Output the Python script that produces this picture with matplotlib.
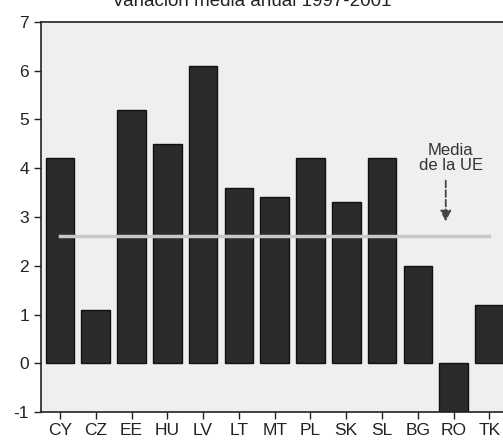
import matplotlib.pyplot as plt

# Variación media anual 1997-2001 por país
paises = ["CY", "CZ", "EE", "HU", "LV", "LT", "MT", "PL", "SK", "SL", "BG", "RO", "TK"]
valores = [4.2, 1.1, 5.2, 4.5, 6.1, 3.6, 3.4, 4.2, 3.3, 4.2, 2.0, -1.0, 1.2]
media_ue = 2.6

plt.rcParams["font.family"] = ["Liberation Sans", "DejaVu Sans"]
plt.rcParams["axes.unicode_minus"] = False

fig = plt.figure(figsize=(5.03, 4.45), dpi=100)
ax = fig.add_axes([0.0815, 0.074, 0.932, 0.877])
ax.set_facecolor("#efefef")

x = range(len(paises))
ax.bar(x, valores, width=0.8, color="#2b2b2b", edgecolor="#111111", linewidth=1, zorder=2)

# linea de la media de la UE
ax.plot([0, len(paises) - 1], [media_ue, media_ue], color="#c8c8c8", linewidth=2.5, zorder=3)

ax.set_xlim(-0.53, 12.57)
ax.set_ylim(-1, 7)
ax.set_yticks(range(-1, 8))
ax.set_xticks(list(x))
ax.set_xticklabels(paises)

ax.spines["right"].set_visible(False)
for s in ["left", "bottom", "top"]:
    ax.spines[s].set_color("#222222")
    ax.spines[s].set_linewidth(1.2)
ax.tick_params(axis="both", direction="out", length=5, width=1, colors="#222222", labelsize=12.5)
ax.tick_params(axis="x", pad=3)

ax.text(10.92, 4.21, "Media\nde la UE", ha="center", va="center", fontsize=12, color="#333333",
        linespacing=1.0, zorder=4)
ax.annotate("", xy=(10.78, 2.85), xytext=(10.78, 3.8),
            arrowprops=dict(arrowstyle="-|>", linestyle="--", color="#444444", lw=1.3,
                            mutation_scale=16), zorder=4)

fig.text(0.5, 0.997, "Variación media anual 1997-2001", ha="center", va="center", fontsize=13.5,
         color="#222222")

fig.savefig("out.png", dpi=100)
